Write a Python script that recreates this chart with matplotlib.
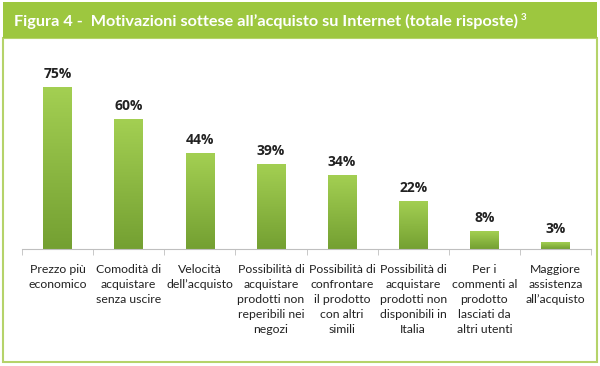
import numpy as np
import matplotlib.pyplot as plt
from matplotlib.patches import Rectangle

categories = [
    "Prezzo più\neconomico",
    "Comodità di\nacquistare\nsenza uscire",
    "Velocità\ndell\u2019acquisto",
    "Possibilità di\nacquistare\nprodotti non\nreperibili nei\nnegozi",
    "Possibilità di\nconfrontare\nil prodotto\ncon altri\nsimili",
    "Possibilità di\nacquistare\nprodotti non\ndisponibili in\nItalia",
    "Per i\ncommenti al\nprodotto\nlasciati da\naltri utenti",
    "Maggiore\nassistenza\nall\u2019acquisto",
]
values = [75, 60, 44, 39, 34, 22, 8, 3]

green = "#9dc73f"

fig = plt.figure(figsize=(6, 3.66), dpi=100)

# frame and title bar
fig.patches.append(Rectangle((3/600, 4/366), 594/600, 324/366, transform=fig.transFigure,
                             facecolor="white", edgecolor="#b5d36a", lw=1.5, zorder=-2))
fig.patches.append(Rectangle((3/600, 328/366), 594/600, 36/366, transform=fig.transFigure,
                             facecolor=green, edgecolor="none", zorder=-1))
title = fig.text(14/600, 345/366,
                 "Figura 4 -  Motivazioni sottese all\u2019acquisto su Internet (totale risposte)",
                 color="white", fontsize=11.7, fontweight="bold", family="Lato",
                 va="center")
fig.canvas.draw()
bb = title.get_window_extent()
fig.text(bb.x1 / 600 + 3/600, bb.y1 / 366, "3", color="white", fontsize=7,
         fontweight="bold", family="Lato", va="top")

ax = fig.add_axes([22/600, 117/366, 569/600, 189/366])
x = np.arange(len(values))
bars = ax.bar(x, values, width=0.4, color="none")
ax.set_xlim(-0.5, len(values) - 0.5)
ax.set_ylim(0, 87.5)

# gradient fill for each bar
grad = np.linspace(0, 1, 100).reshape(-1, 1)
cmap = plt.matplotlib.colors.LinearSegmentedColormap.from_list("g", ["#74a032", "#a3cf52"])
for b in bars:
    x0, w, h = b.get_x(), b.get_width(), b.get_height()
    ax.imshow(grad, extent=(x0, x0 + w, 0, h), origin="lower", cmap=cmap,
              aspect="auto", zorder=2)
    ax.text(x0 + w / 2, h + 3, f"{int(h)}%", ha="center", va="bottom",
            fontsize=10, fontweight="bold", family="Open Sans", color="#222222")

for s in ["top", "right", "left"]:
    ax.spines[s].set_visible(False)
ax.spines["bottom"].set_color("#bfbfbf")
ax.set_yticks([])
ax.set_xticks(np.arange(-0.5, len(values)), minor=True)
ax.tick_params(axis="x", which="minor", length=4, color="#bfbfbf")
ax.tick_params(axis="x", which="major", length=0, pad=11)
ax.set_xticks(x)
ax.set_xticklabels(categories, fontsize=8.8, family="Lato", color="#222222",
                   linespacing=1.45, va="top")

fig.savefig("out.png", dpi=100)
